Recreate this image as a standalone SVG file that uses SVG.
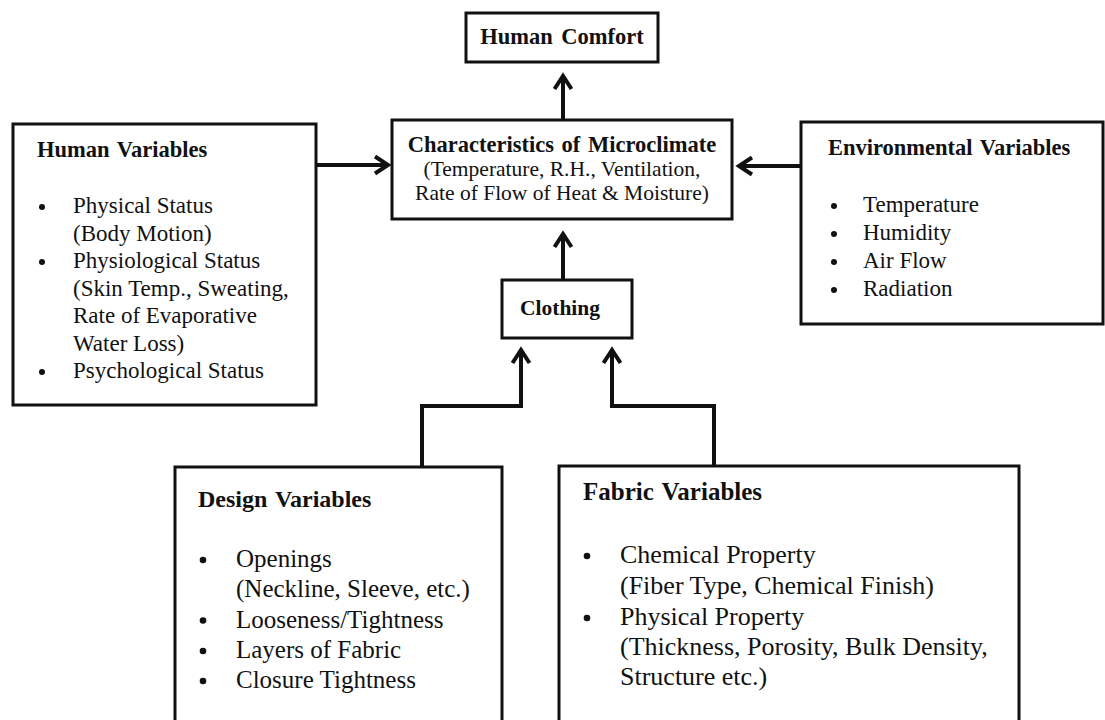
<svg xmlns="http://www.w3.org/2000/svg" width="1105" height="720" viewBox="0 0 1105 720">
<defs>
<style>
.box{fill:#fff;stroke:#111;stroke-width:3}
.t{font-family:"Liberation Serif","Times New Roman",serif;fill:#111}
.b{font-weight:bold}
.c{text-anchor:middle}
.conn{fill:none;stroke:#111;stroke-width:4;stroke-linejoin:miter}
.dot{fill:#111}
</style>
<marker id="arr" markerUnits="userSpaceOnUse" orient="auto" overflow="visible" markerWidth="30" markerHeight="30">
<path d="M-13,-8.5 L0,0 L-13,8.5" fill="none" stroke="#111" stroke-width="4"/>
</marker>
</defs>
<rect width="1105" height="720" fill="#fff"/>

<g id="connectors">
<path class="conn" d="M563,120 V76" marker-end="url(#arr)"/>
<path class="conn" d="M563,280 V234" marker-end="url(#arr)"/>
<path class="conn" d="M316,165 H388" marker-end="url(#arr)"/>
<path class="conn" d="M801,166 H739" marker-end="url(#arr)"/>
<path class="conn" d="M422,467 V406 H521 V350" marker-end="url(#arr)"/>
<path class="conn" d="M714,466 V406 H612 V350" marker-end="url(#arr)"/>
</g>

<g id="human-comfort">
<rect class="box" x="466" y="13" width="192" height="49"/>
<text class="t b c" x="562" y="44" font-size="22.5" word-spacing="3">Human Comfort</text>
</g>

<g id="microclimate">
<rect class="box" x="392" y="120" width="340" height="99"/>
<text class="t b c" x="562" y="152" font-size="22.5" word-spacing="2">Characteristics of Microclimate</text>
<text class="t c" x="562" y="176" font-size="21.5">(Temperature, R.H., Ventilation,</text>
<text class="t c" x="562" y="200" font-size="21.5">Rate of Flow of Heat &amp; Moisture)</text>
</g>

<g id="clothing">
<rect class="box" x="502" y="280" width="130" height="58"/>
<text class="t b" x="520" y="315" font-size="21.5">Clothing</text>
</g>

<g id="human-variables">
<rect class="box" x="13" y="124" width="303" height="281"/>
<text class="t b" x="37" y="157" font-size="22.5" word-spacing="2">Human Variables</text>
<circle class="dot" cx="42" cy="207" r="3"/>
<circle class="dot" cx="42" cy="262" r="3"/>
<circle class="dot" cx="42" cy="372" r="3"/>
<g class="t" font-size="23">
<text x="73" y="213">Physical Status</text>
<text x="73" y="240.5">(Body Motion)</text>
<text x="73" y="268">Physiological Status</text>
<text x="73" y="295.5">(Skin Temp., Sweating,</text>
<text x="73" y="323">Rate of Evaporative</text>
<text x="73" y="350.5">Water Loss)</text>
<text x="73" y="378">Psychological Status</text>
</g>
</g>

<g id="environmental-variables">
<rect class="box" x="801" y="122" width="302" height="202"/>
<text class="t b" x="828" y="155" font-size="22.5" word-spacing="2">Environmental Variables</text>
<circle class="dot" cx="834" cy="206" r="3"/>
<circle class="dot" cx="834" cy="234" r="3"/>
<circle class="dot" cx="834" cy="262" r="3"/>
<circle class="dot" cx="834" cy="290" r="3"/>
<g class="t" font-size="23">
<text x="863" y="212">Temperature</text>
<text x="863" y="240">Humidity</text>
<text x="863" y="268">Air Flow</text>
<text x="863" y="296">Radiation</text>
</g>
</g>

<g id="design-variables">
<rect class="box" x="175" y="467" width="327" height="270"/>
<text class="t b" x="198" y="507" font-size="24" word-spacing="2">Design Variables</text>
<circle class="dot" cx="203" cy="560" r="3.3"/>
<circle class="dot" cx="203" cy="620.5" r="3.3"/>
<circle class="dot" cx="203" cy="651" r="3.3"/>
<circle class="dot" cx="203" cy="681" r="3.3"/>
<g class="t" font-size="25">
<text x="236" y="567">Openings</text>
<text x="236" y="597.3">(Neckline, Sleeve, etc.)</text>
<text x="236" y="627.6">Looseness/Tightness</text>
<text x="236" y="658">Layers of Fabric</text>
<text x="236" y="688">Closure Tightness</text>
</g>
</g>

<g id="fabric-variables">
<rect class="box" x="559" y="466" width="460" height="270"/>
<text class="t b" x="583" y="500" font-size="25" word-spacing="2">Fabric Variables</text>
<circle class="dot" cx="587" cy="556" r="3.3"/>
<circle class="dot" cx="587" cy="618" r="3.3"/>
<g class="t" font-size="26">
<text x="620" y="563">Chemical Property</text>
<text x="620" y="594">(Fiber Type, Chemical Finish)</text>
<text x="620" y="625">Physical Property</text>
<text x="620" y="655">(Thickness, Porosity, Bulk Density,</text>
<text x="620" y="685">Structure etc.)</text>
</g>
</g>
</svg>
